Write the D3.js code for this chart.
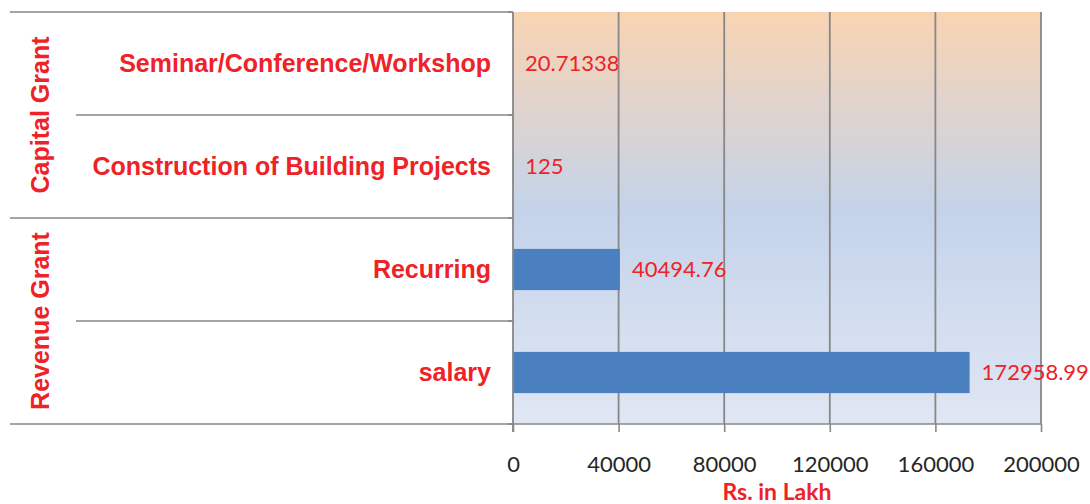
<!DOCTYPE html>
<html>
<head>
<meta charset="utf-8">
<script src="https://cdn.jsdelivr.net/npm/d3@7"></script>
<style>
  html, body { margin: 0; padding: 0; background: #ffffff; }
  svg { display: block; }
</style>
</head>
<body>
<svg id="chart" width="1090" height="504"></svg>
<script>
// Grant heads (top to bottom) and amounts in Rs. lakh
const categories = ["Seminar/Conference/Workshop", "Construction of Building Projects", "Recurring", "salary"];
const values = [20.71338, 125, 40494.76, 172958.99];
const valueLabels = ["20.71338", "125", "40494.76", "172958.99"];
const groups = ["Capital Grant", "Revenue Grant"];
const groupOf = [0, 0, 1, 1];
const xTicks = [0, 40000, 80000, 120000, 160000, 200000];
const xTitle = "Rs. in Lakh";

const svg = d3.select("#chart");
const plot = { left: 513, right: 1041, top: 12, bottom: 424 };
const tableLeft = 10, innerLeft = 76;
const red = "#ee2227";
const lineGrey = "#878787";

const x = d3.scaleLinear().domain([0, 200000]).range([plot.left, plot.right]);
const y = d3.scaleBand().domain(categories).range([plot.top, plot.bottom]).paddingInner(0).paddingOuter(0);

// Plot-area background gradient
const defs = svg.append("defs");
const grad = defs.append("linearGradient").attr("id", "bg").attr("x1", 0).attr("y1", 0).attr("x2", 0).attr("y2", 1);
grad.append("stop").attr("offset", "0%").attr("stop-color", "#f9d4b3");
grad.append("stop").attr("offset", "48%").attr("stop-color", "#c4d3ea");
grad.append("stop").attr("offset", "100%").attr("stop-color", "#e0e7f4");

svg.append("rect")
  .attr("x", plot.left).attr("y", plot.top)
  .attr("width", plot.right - plot.left).attr("height", plot.bottom - plot.top)
  .attr("fill", "url(#bg)");

// Vertical gridlines
svg.append("g").selectAll("line").data(xTicks.slice(1)).join("line")
  .attr("x1", d => x(d)).attr("x2", d => x(d))
  .attr("y1", plot.top).attr("y2", plot.bottom)
  .attr("stroke", lineGrey).attr("stroke-width", 1.8);

// Bars
svg.append("g").selectAll("rect").data(categories).join("rect")
  .attr("x", x(0))
  .attr("y", (d) => y(d) + y.bandwidth() * 0.3)
  .attr("width", (d, i) => x(values[i]) - x(0))
  .attr("height", y.bandwidth() * 0.4)
  .attr("fill", "#4a80bf");

// Value labels
svg.append("g").selectAll("text").data(categories).join("text")
  .attr("x", (d, i) => x(values[i]) + 12)
  .attr("y", d => y(d) + y.bandwidth() / 2)
  .attr("dy", "0.35em")
  .attr("font-family", "Lato, 'Open Sans', sans-serif")
  .attr("font-size", 22)
  .attr("fill", red)
  .text((d, i) => valueLabels[i]);

// Category table rules
const bounds = [plot.top].concat(categories.map(c => y(c) + y.bandwidth()));
svg.append("g").selectAll("line").data(bounds).join("line")
  .attr("x1", (d, i) => {
    // rules that close a group run through the group column
    if (i === 0) return tableLeft;
    return groupOf[i - 1] !== groupOf[i] || i === categories.length ? tableLeft : innerLeft;
  })
  .attr("x2", plot.left)
  .attr("y1", d => d).attr("y2", d => d)
  .attr("stroke", lineGrey).attr("stroke-width", 1.6);

// Left tick marks on the category axis
svg.append("g").selectAll("line").data(bounds).join("line")
  .attr("x1", plot.left - 5).attr("x2", plot.left)
  .attr("y1", d => d).attr("y2", d => d)
  .attr("stroke", lineGrey).attr("stroke-width", 1.6);

// X axis
const xAxis = d3.axisBottom(x).tickValues(xTicks).tickSize(8).tickPadding(24).tickFormat(d3.format("d"));
const gx = svg.append("g").attr("transform", `translate(0,${plot.bottom})`).call(xAxis);
gx.select(".domain").attr("stroke", lineGrey).attr("stroke-width", 1.6).attr("d", `M${plot.left},0H${plot.right}`);
gx.selectAll(".tick line").attr("stroke", lineGrey).attr("stroke-width", 1.6);
gx.selectAll(".tick text")
  .attr("font-family", "Lato, 'Open Sans', sans-serif")
  .attr("font-size", 22)
  .attr("fill", "#262626");

// Y axis line
svg.append("line")
  .attr("x1", plot.left).attr("x2", plot.left)
  .attr("y1", plot.top).attr("y2", plot.bottom + 8)
  .attr("stroke", lineGrey).attr("stroke-width", 1.8);

// Category names
svg.append("g").selectAll("text").data(categories).join("text")
  .attr("x", 491)
  .attr("y", d => y(d) + y.bandwidth() / 2)
  .attr("dy", "0.35em")
  .attr("text-anchor", "end")
  .attr("font-family", "'Liberation Sans', Arial, sans-serif")
  .attr("font-weight", "bold")
  .attr("font-size", 25)
  .attr("fill", red)
  .text(d => d);

// Group names, rotated
svg.append("g").selectAll("text").data(groups).join("text")
  .attr("transform", (g, gi) => {
    const members = categories.filter((c, i) => groupOf[i] === gi);
    const top = y(members[0]);
    const bottom = y(members[members.length - 1]) + y.bandwidth();
    return `translate(40,${(top + bottom) / 2}) rotate(-90)`;
  })
  .attr("dy", "0.35em")
  .attr("text-anchor", "middle")
  .attr("font-family", "'Liberation Sans', Arial, sans-serif")
  .attr("font-weight", "bold")
  .attr("font-size", 25)
  .attr("fill", red)
  .text(d => d);

// Axis title
svg.append("text")
  .attr("x", (plot.left + plot.right) / 2)
  .attr("y", 492)
  .attr("dy", "0.35em")
  .attr("text-anchor", "middle")
  .attr("font-family", "Lato, 'Open Sans', sans-serif")
  .attr("font-weight", "bold")
  .attr("font-size", 23)
  .attr("fill", red)
  .text(xTitle);
</script>
</body>
</html>
